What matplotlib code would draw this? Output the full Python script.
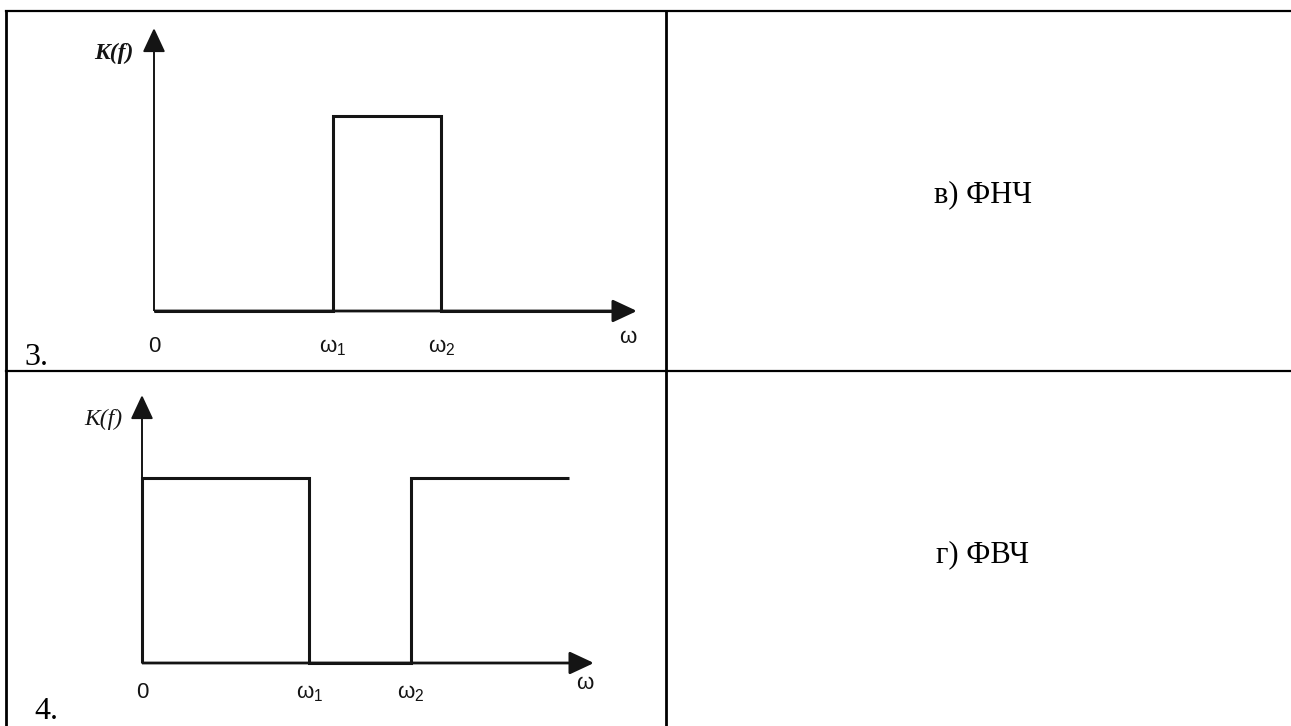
import matplotlib
matplotlib.use("Agg")
import matplotlib.pyplot as plt

plt.rcParams["mathtext.default"] = "regular"

# Cut-off frequencies (omega axis runs 0..10 up to the arrow tip).
omega_1 = 3.7
omega_2 = 5.95
omega_stop_end = 9.45

# Row 3: band-pass response (zero part runs into the arrow head).
bandpass_omega = [0, omega_1, omega_1, omega_2, omega_2, 9.6]
bandpass_gain = [0, 0, 1, 1, 0, 0]

# Row 4: band-stop response.
bandstop_omega = [0, 0, omega_1, omega_1, omega_2, omega_2, omega_stop_end]
bandstop_gain = [0, 1, 1, 0, 0, 1, 1]

# Text of the table.
row_numbers = ["3.", "4."]
answers = ["в) ФНЧ", "г) ФВЧ"]
tick_values = [0, omega_1, omega_2]
tick_labels = ["0", "ω$_1$", "ω$_2$"]
axis_x_label = "ω"
axis_y_label = "K(f)"

W, H = 1291, 726
ink = "#141414"
serif = "Liberation Serif"
sans = "Liberation Sans"

fig = plt.figure(figsize=(W / 100, H / 100), dpi=100)

# Background axes in pixel units for the table grid and plain text.
bg = fig.add_axes([0, 0, 1, 1])
bg.set_xlim(0, W)
bg.set_ylim(H, 0)
bg.axis("off")

bg.plot([6, W], [11, 11], color="black", lw=1.6)
bg.plot([6, W], [371, 371], color="black", lw=1.6)
bg.plot([6, 6], [11, H], color="black", lw=2.0)
bg.plot([666, 666], [11, H], color="black", lw=2.0)

answer_y = [195, 555]
number_pos = [(24, 365), (34, 719)]
for i in range(2):
    bg.text(983, answer_y[i], answers[i], ha="center", va="center",
            fontsize=22, family=serif, color="black")
    bg.text(number_pos[i][0], number_pos[i][1], row_numbers[i], ha="left",
            va="baseline", fontsize=23, family=serif, color="black")


# Draw one frequency response sketch with arrowed axes.
def draw_panel(box, omega, gain, label_drop, label_weight):
    left, top, right, origin_y = box
    ax = fig.add_axes([left / W, 1 - origin_y / H, (right - left) / W, (origin_y - top) / H])
    ax.set_xlim(0, 10)
    ax.set_ylim(0, 1.45)
    ax.axis("off")

    # Axes with filled arrow heads.
    head = "-|>,head_length=0.75,head_width=0.35"
    ax.annotate("", xy=(10, 0), xytext=(0, 0), annotation_clip=False,
                arrowprops=dict(arrowstyle=head, mutation_scale=20, lw=2.0, capstyle="butt",
                                joinstyle="round", color=ink, shrinkA=0, shrinkB=0))
    ax.annotate("", xy=(0, 1.45), xytext=(0, 0), annotation_clip=False,
                arrowprops=dict(arrowstyle=head, mutation_scale=20, lw=1.4, capstyle="butt",
                                joinstyle="round", color=ink, shrinkA=0, shrinkB=0))

    ax.plot(omega, gain, color=ink, lw=2.2, clip_on=False,
            solid_joinstyle="miter", solid_capstyle="butt")

    # Frequency labels under the axis.
    for value, label in zip(tick_values, tick_labels):
        ax.annotate(label, xy=(value, 0), xytext=(0, -label_drop), textcoords="offset pixels",
                    ha="center", va="baseline", fontsize=16, family=sans, color=ink)
    ax.annotate(axis_x_label, xy=(9.8, 0), xytext=(0, -label_drop + 9), textcoords="offset pixels",
                ha="center", va="baseline", fontsize=16, family=sans, color=ink)
    ax.annotate(axis_y_label, xy=(0, 1.32), xytext=(-20, 0), textcoords="offset pixels",
                ha="right", va="center", fontsize=17, family=serif, style="italic",
                weight=label_weight, color=ink)


draw_panel((154, 28, 637, 311), bandpass_omega, bandpass_gain, 41, "bold")
draw_panel((142, 395, 594, 663), bandstop_omega, bandstop_gain, 35, "normal")

fig.savefig("out.png", dpi=100)
